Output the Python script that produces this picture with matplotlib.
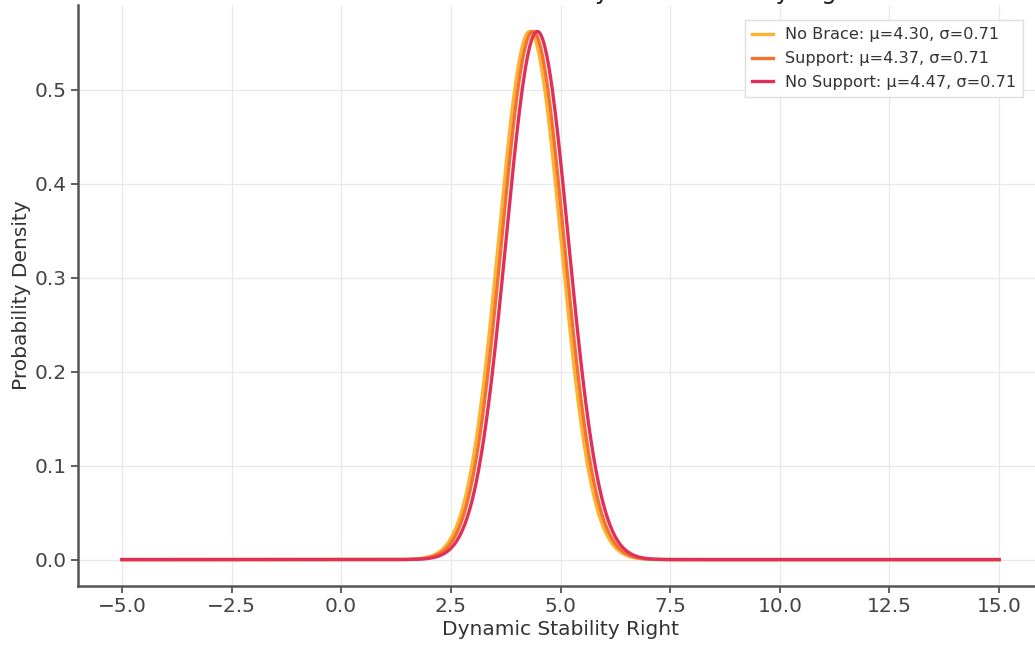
import matplotlib
matplotlib.use('Agg')
import matplotlib.pyplot as plt
import numpy as np

# Groups and fitted normal parameters (from legend)
groups = ['No Brace', 'Support', 'No Support']
means = [4.30, 4.37, 4.47]
stds = [0.71, 0.71, 0.71]
line_colors = ['#FDB32F', '#F27132', '#E0305A']

x_min, x_max = -5, 15
title = 'Normal Distributions of Dynamic Stability Right'

W, H = 1035, 647
fig = plt.figure(figsize=(W / 100, H / 100), dpi=100)
ax = fig.add_axes([78 / W, 61 / H, 965 / W, 581 / H])

xs = np.linspace(x_min, x_max, 1000)
for name, mu, sd, c in zip(groups, means, stds, line_colors):
    pdf = np.exp(-0.5 * ((xs - mu) / sd) ** 2) / (sd * np.sqrt(2 * np.pi))
    ax.plot(xs, pdf, color=c, linewidth=2.4, label=f'{name}: μ={mu:.2f}, σ={sd:.2f}')

ax.set_xlim(-6, 16)
ax.set_xticks(np.arange(-5, 15.1, 2.5))
ax.set_yticks([0.0, 0.1, 0.2, 0.3, 0.4, 0.5])
ax.set_xlabel('Dynamic Stability Right', fontsize=14.5, color='#333333', labelpad=3)
ax.set_ylabel('Probability Density', fontsize=14.5, color='#333333', labelpad=3)
ax.tick_params(labelsize=14.5, colors='#444444', length=5, width=1.2, pad=3)
ax.grid(True, color='#e8e8e8', linewidth=0.9)
ax.set_axisbelow(True)
for s in ['top', 'right']:
    ax.spines[s].set_visible(False)
for s in ['left', 'bottom']:
    ax.spines[s].set_color('#555555')
    ax.spines[s].set_linewidth(1.8)

ax.legend(loc='upper right', bbox_to_anchor=(1031 / W, 1 - 12 / H),
          bbox_transform=fig.transFigure, fontsize=11.6, frameon=True,
          framealpha=1, edgecolor='#dddddd', fancybox=False, labelcolor='#333333',
          handlelength=1.3, handletextpad=0.7, borderpad=0.45, labelspacing=0.55)

fig.text(575 / W, 1 + 1 / H, title, ha='center', va='baseline', fontsize=17.5, color='#222222')

fig.savefig('out.png', dpi=100)
